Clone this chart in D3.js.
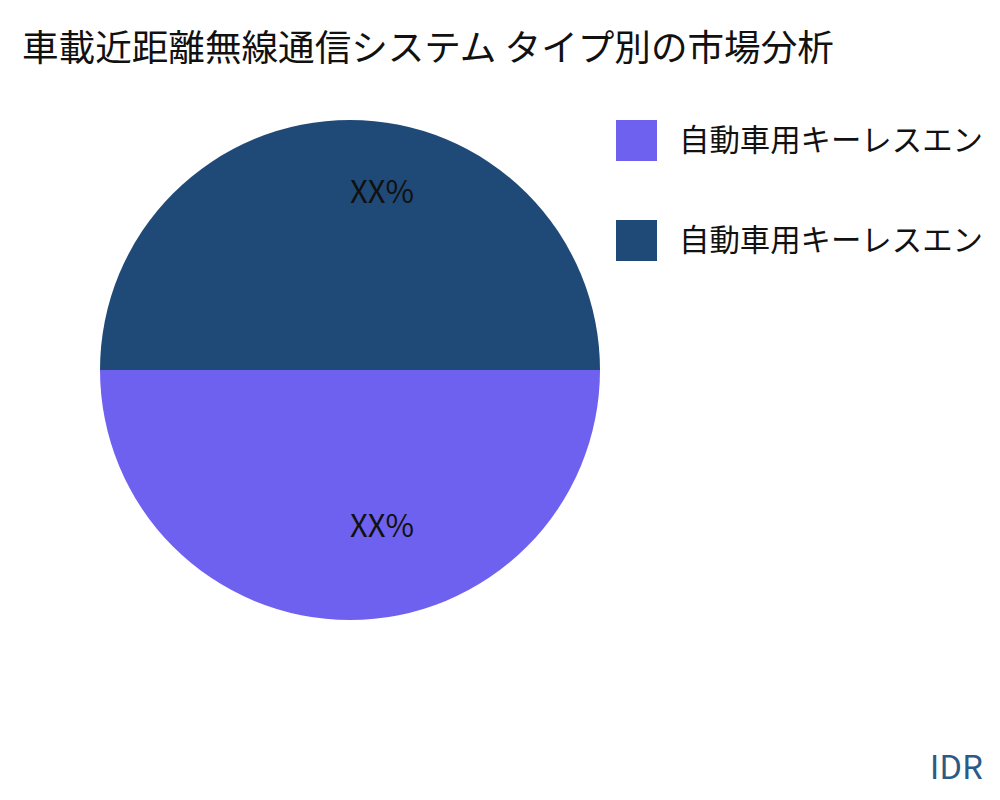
<!DOCTYPE html>
<html>
<head>
<meta charset="utf-8">
<script src="https://cdn.jsdelivr.net/npm/d3@7"></script>
<style>
  html, body { margin: 0; padding: 0; background: #fff; }
  svg { display: block; font-family: "Noto Sans CJK JP", "Noto Sans", sans-serif; }
</style>
</head>
<body>
<svg id="chart" width="1000" height="800"></svg>
<script>
const title = "車載近距離無線通信システム タイプ別の市場分析";
const categories = ["自動車用キーレスエン", "自動車用キーレスエン"];
const values = [50, 50];
const valueLabels = ["XX%", "XX%"];
const colors = ["#6f61f0", "#1f4a78"];
const brand = "IDR";

const svg = d3.select("#chart");
const cx = 350, cy = 370, R = 250;

svg.append("text")
  .attr("x", 22).attr("y", 61)
  .attr("font-size", 36.6)
  .attr("fill", "#111")
  .text(title);

const pie = d3.pie().sort(null).value(d => d)
  .startAngle(Math.PI / 2).endAngle(Math.PI / 2 + 2 * Math.PI);
const arcs = pie(values);
const arc = d3.arc().innerRadius(0).outerRadius(R);
const labelArc = d3.arc().innerRadius(R * 0.668).outerRadius(R * 0.668);

const g = svg.append("g").attr("transform", `translate(${cx},${cy})`);
g.selectAll("path").data(arcs).join("path")
  .attr("d", arc)
  .attr("fill", (d, i) => colors[i]);

g.selectAll("text").data(arcs).join("text")
  .attr("x", d => labelArc.centroid(d)[0])
  .attr("y", d => labelArc.centroid(d)[1])
  .attr("font-size", 31)
  .attr("fill", "#111")
  .text((d, i) => valueLabels[i]);

const legend = svg.append("g");
const color = d3.scaleOrdinal().domain(d3.range(categories.length)).range(colors);
categories.forEach((c, i) => {
  const y = 120 + i * 100;
  legend.append("rect")
    .attr("x", 616).attr("y", y).attr("width", 41).attr("height", 41)
    .attr("fill", color(i));
  legend.append("text")
    .attr("x", 679).attr("y", y + 31)
    .attr("font-size", 30.4)
    .attr("fill", "#111")
    .text(c);
});

svg.append("text")
  .attr("x", 983).attr("y", 779)
  .attr("text-anchor", "end")
  .attr("font-size", 33)
  .attr("fill", "#2c5a88")
  .text(brand);
</script>
</body>
</html>
